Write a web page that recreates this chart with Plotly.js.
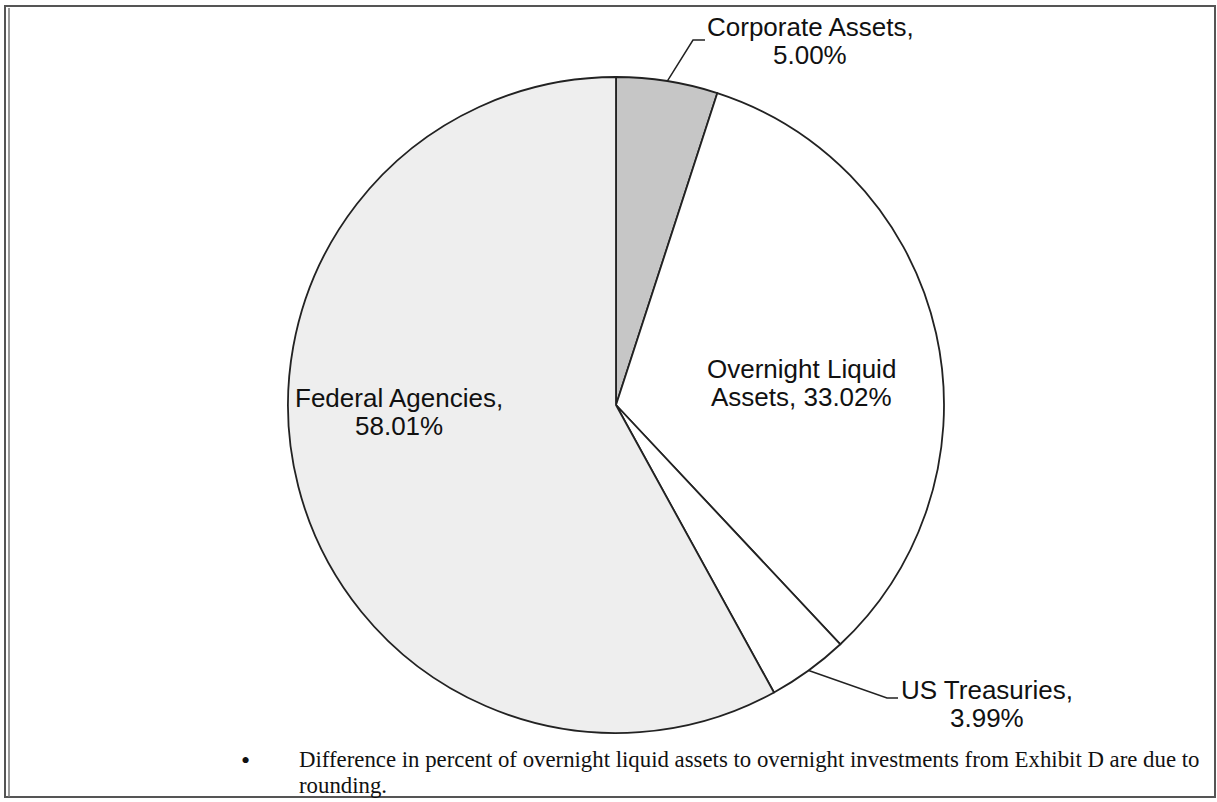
<!DOCTYPE html>
<html>
<head>
<meta charset="utf-8">
<script src="https://cdn.plot.ly/plotly-3.0.1.min.js"></script>
<style>html,body{margin:0;padding:0;background:#fff;}#chart{width:1217px;height:802px;}</style>
</head>
<body>
<div id="chart"></div>
<script>
// ---- data ----
const categories = ["Corporate Assets", "Overnight Liquid Assets", "US Treasuries", "Federal Agencies"];
const values = [5.00, 33.02, 3.99, 58.01];
const sliceColors = ["#c6c6c6", "#ffffff", "#ffffff", "#eeeeee"];
const labelLines = [
  ["Corporate Assets,", "5.00%"],
  ["Overnight Liquid", "Assets, 33.02%"],
  ["US Treasuries,", "3.99%"],
  ["Federal Agencies,", "58.01%"]
];
const footnote = ["Difference in percent of overnight liquid assets to overnight investments from Exhibit D are due to", "rounding."];

// ---- layout geometry (pixels) ----
const W = 1217, H = 802;
const cx = 616, cy = 405, r = 328;
const px = x => x / W;
const py = y => 1 - y / H;

// label placement (pixel centres of label text) and leader elbows
const labelPos = [
  {x: 810, y: 27, outside: true, elbow: [693, 40], end: [705, 40]},
  {x: 801, y: 369, outside: false},
  {x: 987, y: 690, outside: true, elbow: [887, 698], end: [898, 698]},
  {x: 399, y: 398, outside: false}
];
const lineGap = 28;

const total = values.reduce((a, b) => a + b, 0);
let cum = 0;
const annotations = [];
const shapes = [];
const font = {family: "Liberation Sans, Arial, sans-serif", size: 26, color: "#111"};

values.forEach((v, i) => {
  const mid = (cum + v / 2) / total * 2 * Math.PI; // clockwise from top
  cum += v;
  const lp = labelPos[i];
  labelLines[i].forEach((t, k) => {
    annotations.push({
      xref: "paper", yref: "paper",
      x: px(lp.x), y: py(lp.y + k * lineGap),
      xanchor: "center", yanchor: "middle",
      text: t, showarrow: false, font: font
    });
  });
  if (lp.outside) {
    const ex = cx + r * Math.sin(mid), ey = cy - r * Math.cos(mid);
    shapes.push({
      type: "path", xref: "paper", yref: "paper",
      path: `M ${px(ex)},${py(ey)} L ${px(lp.elbow[0])},${py(lp.elbow[1])} L ${px(lp.end[0])},${py(lp.end[1])}`,
      line: {color: "#222", width: 1.5}
    });
  }
});

// footnote
annotations.push({xref: "paper", yref: "paper", x: px(245), y: py(760), xanchor: "center", yanchor: "middle",
  text: "•", showarrow: false, font: {family: "Liberation Serif, Times New Roman, serif", size: 26, color: "#111"}});
footnote.forEach((t, k) => {
  annotations.push({xref: "paper", yref: "paper", x: px(297), y: py(759 + k * 26), xanchor: "left", yanchor: "middle",
    text: t, showarrow: false, font: {family: "Liberation Serif, Times New Roman, serif", size: 22.8, color: "#111"}});
});

// frame
shapes.push({type: "rect", xref: "paper", yref: "paper", x0: px(5), x1: px(1215), y0: py(797), y1: py(6),
  line: {color: "#555", width: 2}});
shapes.push({type: "line", xref: "paper", yref: "paper", x0: px(9), x1: px(9), y0: py(797), y1: py(8),
  line: {color: "#777", width: 1.5}});

const trace = {
  type: "pie",
  labels: categories,
  values: values,
  sort: false,
  direction: "clockwise",
  rotation: 0,
  textinfo: "none",
  hoverinfo: "none",
  marker: {colors: sliceColors, line: {color: "#222", width: 1.8}},
  domain: {x: [px(cx - r), px(cx + r)], y: [py(cy + r), py(cy - r)]},
  showlegend: false
};

const layout = {
  width: W, height: H,
  margin: {l: 0, r: 0, t: 0, b: 0},
  paper_bgcolor: "#ffffff",
  plot_bgcolor: "#ffffff",
  showlegend: false,
  annotations: annotations,
  shapes: shapes
};

Plotly.newPlot("chart", [trace], layout, {displayModeBar: false, staticPlot: true});
</script>
</body>
</html>
